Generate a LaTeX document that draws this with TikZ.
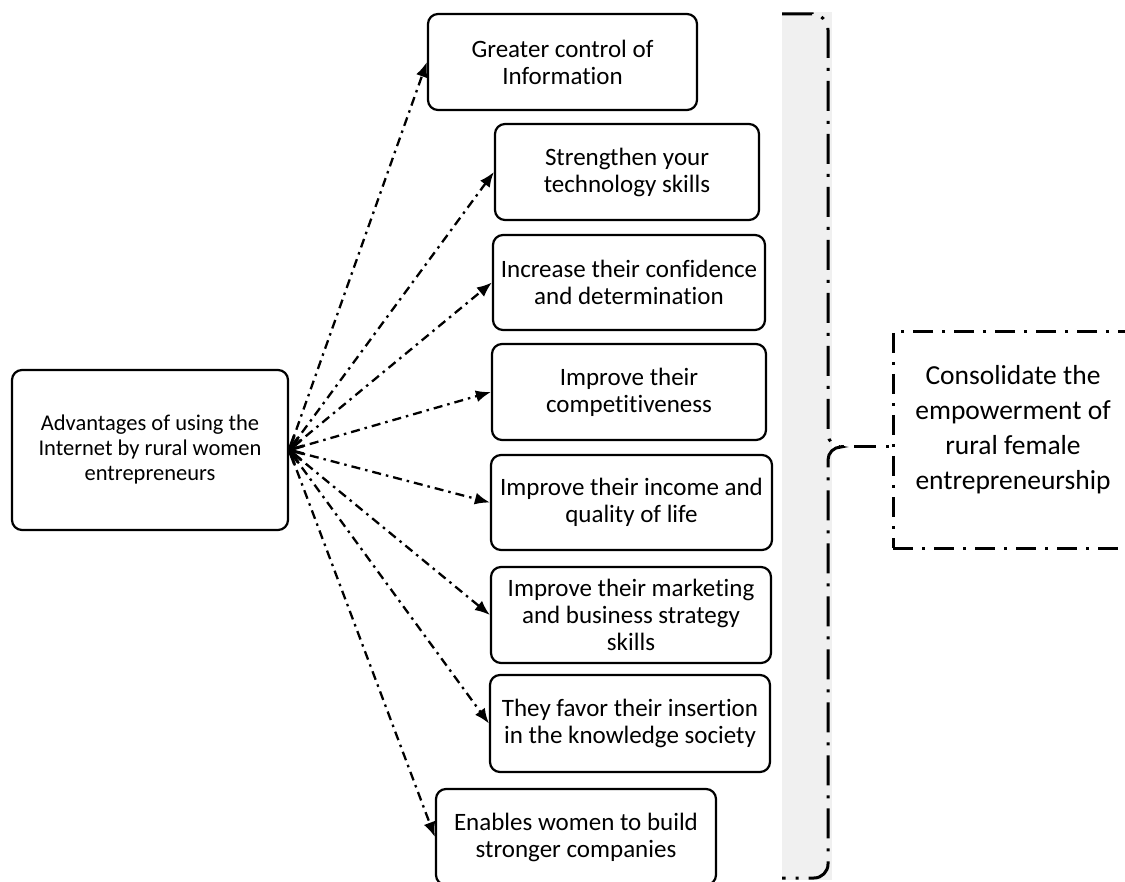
\documentclass[tikz,border=0pt]{standalone}
\usepackage{fontspec}
\setmainfont{Carlito}[Ligatures=NoCommon]
\usetikzlibrary{arrows.meta,calc}
\definecolor{bandgray}{RGB}{240,240,240}
\tikzset{
  box/.style={draw, line width=2.2pt, rounded corners=10pt, align=center, inner sep=2pt,
    font=\fontsize{25}{27}\selectfont},
  advbox/.style={box, font=\fontsize{22.5}{25}\selectfont},
  consbox/.style={draw, line width=3pt, align=center,
    dash pattern=on 20pt off 9pt on 3pt off 9pt,
    font=\fontsize{27.5}{35}\selectfont, text depth=25pt},
  arr/.style={line width=2.3pt, dash pattern=on 9pt off 5pt on 2.5pt off 5pt,
    -{Latex[length=15pt,width=12pt]}},
  stub/.style={line width=3pt},
  bracepath/.style={line width=3pt, dash pattern=on 30pt off 10pt on 3pt off 10pt},
  link/.style={line width=3pt, dash pattern=on 3pt off 10pt on 22pt off 10pt}
}
\begin{document}
\begin{tikzpicture}[x=1pt,y=-1pt]
\useasboundingbox (0,0) rectangle (1125,882);
\fill[white] (0,0) rectangle (1125,882);
\fill[bandgray] (782,12) rectangle (832,880);

\node[advbox, minimum width=276pt, minimum height=160pt] (adv) at (150,450)
  {Advantages of using the\\Internet by rural women\\entrepreneurs};

\node[box, minimum width=269pt, minimum height=96pt] (b1) at (562.5,62) {Greater control of\\Information};
\node[box, minimum width=264pt, minimum height=96pt] (b2) at (627,172) {Strengthen your\\technology skills};
\node[box, minimum width=272pt, minimum height=95pt] (b3) at (629,282.5) {Increase their confidence\\and determination};
\node[box, minimum width=274pt, minimum height=96pt] (b4) at (629,392) {Improve their\\competitiveness};
\node[box, minimum width=281pt, minimum height=95pt] (b5) at (631.5,502.5) {Improve their income and\\quality of life};
\node[box, minimum width=280pt, minimum height=96pt] (b6) at (631,615) {Improve their marketing\\and business strategy\\skills};
\node[box, minimum width=280pt, minimum height=97pt] (b7) at (630,723.5) {They favor their insertion\\in the knowledge society};
\node[box, minimum width=280pt, minimum height=96pt] (b8) at (576,837) {Enables women to build\\stronger companies};

\node[consbox, minimum width=240pt, minimum height=216pt] (cons) at (1013,440)
  {Consolidate the\\empowerment of\\rural female\\entrepreneurship};

\foreach \b in {b1,b2,b3,b4,b5,b6,b7,b8}{
  \draw[arr] (adv.east) -- (\b.west);
  \draw[stub] (adv.east) -- ($(adv.east)!15pt!(\b.west)$);
}

\draw[bracepath] (782,14) -- (812,14) to[out=0,in=90] (828,30) -- (828,434)
  to[out=-90,in=180] (841,447) to[out=180,in=90] (828,460) -- (828,864)
  to[out=-90,in=0] (814,878) -- (782,878);
\coordinate (tip) at (841,447);
\draw[link] (tip) -- (tip -| cons.west);
\end{tikzpicture}
\end{document}
